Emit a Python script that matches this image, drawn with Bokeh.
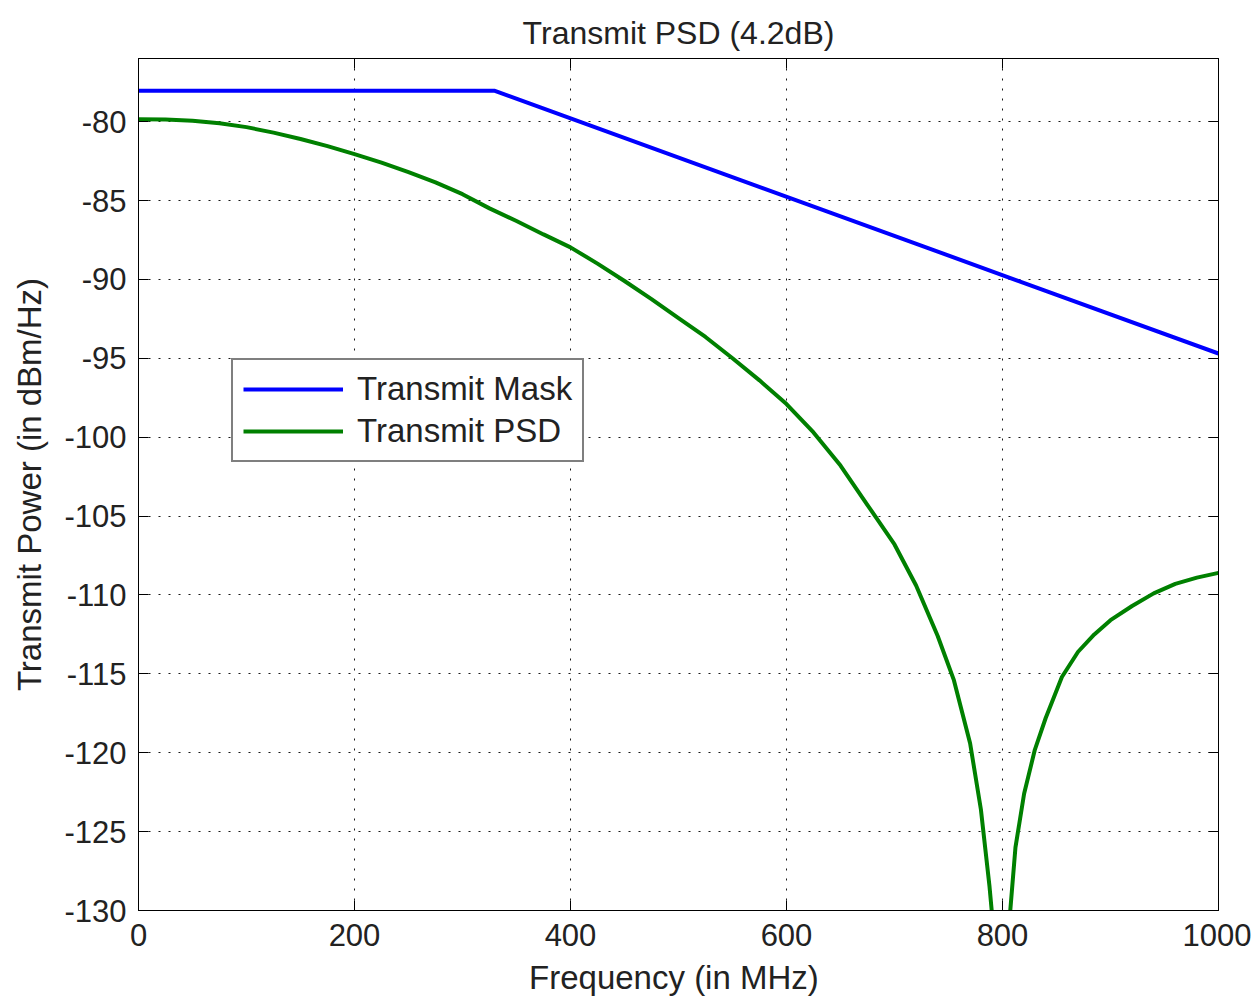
from bokeh.plotting import figure
from bokeh.models import LinearAxis, FixedTicker, Range1d, Legend, LegendItem, CustomJSTickFormatter
from bokeh.embed import file_html
from bokeh.resources import INLINE

# ---- data ----
mask_freq = [0, 330, 1000]
mask_dbm = [-78.05, -78.05, -94.7]

psd_freq = [0, 25, 50, 75, 100, 125, 150, 175, 200, 225, 250, 275, 300, 325, 350,
            375, 400, 425, 450, 475, 500, 525, 550, 575, 600, 625, 650, 675, 700,
            720, 740, 755, 770, 780, 788, 794, 800, 806, 812, 820, 830, 840, 855,
            870, 885, 900, 920, 940, 960, 980, 1000]
psd_dbm = [-79.85, -79.87, -79.95, -80.1, -80.35, -80.7, -81.1, -81.55, -82.06, -82.6,
           -83.2, -83.85, -84.6, -85.5, -86.3, -87.15, -87.97, -89.0, -90.1, -91.25,
           -92.45, -93.65, -95.0, -96.4, -97.9, -99.7, -101.8, -104.3, -106.8,
           -109.4, -112.6, -115.4, -119.4, -123.6, -128.5, -133.0, -150.0, -131.0,
           -126.0, -122.6, -119.8, -117.8, -115.2, -113.6, -112.5, -111.6, -110.7,
           -109.9, -109.3, -108.9, -108.6]

x_ticks = [0, 200, 400, 600, 800, 1000]
y_ticks = [-130, -125, -120, -115, -110, -105, -100, -95, -90, -85, -80]

FONT = "Liberation Sans"
TXT = "#222222"

p = figure(width=1251, height=998, output_backend="svg", toolbar_location=None,
           x_range=Range1d(0, 1000), y_range=Range1d(-130, -76),
           min_border_left=138, min_border_right=33, min_border_top=58, min_border_bottom=87,
           title="Transmit PSD (4.2dB)")
p.background_fill_color = "white"
p.border_fill_color = "white"
p.outline_line_color = "black"
p.outline_line_width = 1

p.title.align = "center"
p.title.text_font = FONT
p.title.text_font_size = "32px"
p.title.text_font_style = "normal"
p.title.text_color = TXT
p.title.standoff = 16

r_mask = p.line(mask_freq, mask_dbm, line_color="#0000FF", line_width=4)
r_psd = p.line(psd_freq, psd_dbm, line_color="#008000", line_width=4)

plain = CustomJSTickFormatter(code="return tick.toString()")
for ax in (p.xaxis[0], p.yaxis[0]):
    ax.formatter = plain
    ax.major_label_text_font = FONT
    ax.major_label_text_font_size = "31px"
    ax.major_label_text_color = TXT
    ax.axis_label_text_font = FONT
    ax.axis_label_text_font_size = "33px"
    ax.axis_label_text_font_style = "normal"
    ax.axis_label_text_color = TXT
    ax.major_tick_in = 10
    ax.major_tick_out = 0
    ax.minor_tick_line_color = None
    ax.axis_line_color = "black"
    ax.major_tick_line_color = "black"

p.xaxis[0].ticker = FixedTicker(ticks=x_ticks)
p.yaxis[0].ticker = FixedTicker(ticks=y_ticks)
p.xaxis[0].axis_label = "Frequency  (in MHz)"
p.yaxis[0].axis_label = "Transmit Power (in dBm/Hz)"
p.xaxis[0].major_label_standoff = 13
p.yaxis[0].major_label_standoff = 12
p.xaxis[0].axis_label_standoff = 10
p.yaxis[0].axis_label_standoff = 13

blank = CustomJSTickFormatter(code="return ''")
top_ax = LinearAxis(ticker=FixedTicker(ticks=x_ticks), formatter=blank,
                    major_tick_in=10, major_tick_out=0, minor_tick_line_color=None,
                    axis_line_color="black", major_label_text_font_size="1px")
right_ax = LinearAxis(ticker=FixedTicker(ticks=y_ticks), formatter=blank,
                      major_tick_in=10, major_tick_out=0, minor_tick_line_color=None,
                      axis_line_color="black", major_label_text_font_size="1px")
p.add_layout(top_ax, "above")
p.add_layout(right_ax, "right")

p.xgrid.ticker = FixedTicker(ticks=x_ticks)
p.ygrid.ticker = FixedTicker(ticks=y_ticks)
for g in (p.xgrid[0], p.ygrid[0]):
    g.grid_line_color = "black"
    g.grid_line_dash = "2 8"
    g.grid_line_width = 1
    g.grid_line_alpha = 0.9

legend = Legend(items=[LegendItem(label="Transmit Mask", renderers=[r_mask]),
                       LegendItem(label="Transmit PSD", renderers=[r_psd])],
                location=(93, 448))
legend.label_text_font = FONT
legend.label_text_font_size = "33px"
legend.label_text_color = TXT
legend.glyph_width = 100
legend.glyph_height = 20
legend.label_standoff = 14
legend.padding = 10
legend.spacing = 4
legend.margin = 0
legend.border_line_color = "black"
legend.border_line_width = 2
legend.border_radius = 0
legend.background_fill_color = "white"
legend.background_fill_alpha = 1
p.add_layout(legend, "center")

open("out.html", "w").write(file_html(p, INLINE))
